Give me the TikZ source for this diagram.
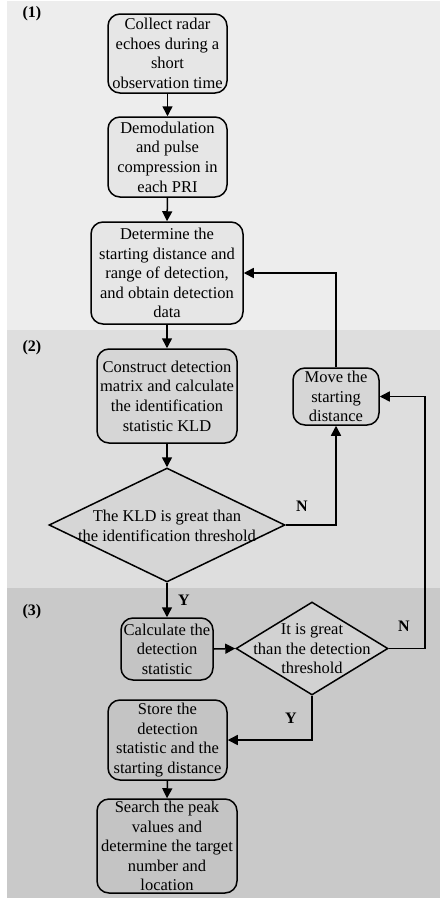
\documentclass[tikz,border=0pt]{standalone}
\usepackage{fontspec}
\setmainfont{Liberation Serif}
\usepackage{xcolor}
\usepackage{tikz}
\usetikzlibrary{positioning}
\usetikzlibrary{shapes.geometric}
\usetikzlibrary{arrows.meta}
\pgfdeclarelayer{bglayer}
\pgfdeclarelayer{nodelayer}
\pgfdeclarelayer{edgelayer}
\pgfsetlayers{bglayer,nodelayer,edgelayer,main}

\definecolor{bgone}{HTML}{EDEDED}
\definecolor{bgtwo}{HTML}{DEDEDE}
\definecolor{bgthree}{HTML}{C9C9C9}
\definecolor{boxone}{HTML}{E6E6E6}
\definecolor{boxtwo}{HTML}{D6D6D6}
\definecolor{boxthree}{HTML}{C4C4C4}
\definecolor{diathree}{HTML}{D2D2D2}

\tikzset{
  stepbox/.style={draw, line width=1.5pt, rounded corners=12pt, align=center,
    inner sep=0pt, font=\fontsize{16.5}{19.6}\selectfont},
  choice/.style={diamond, draw, line width=1.5pt, inner sep=0pt},
  choicetext/.style={align=center, font=\fontsize{16.5}{19.6}\selectfont},
  flow/.style={line width=1.5pt, -{Triangle[length=10pt,width=10pt]}},
  tag/.style={font=\fontsize{16}{19.6}\selectfont\bfseries}
}

\begin{document}
\begin{tikzpicture}[x=1pt, y=-1pt]
  \useasboundingbox (0,0) rectangle (440,902);
  \begin{pgfonlayer}{bglayer}
    \fill [bgone] (7,1) rectangle (440,330);
    \fill [bgtwo] (7,330) rectangle (440,588);
    \fill [bgthree] (7,588) rectangle (440,898);
    \node [tag] (p1) at (32,14) {(1)};
    \node [tag] (p2) at (32,348) {(2)};
    \node [tag] (p3) at (32,612) {(3)};
  \end{pgfonlayer}
  \begin{pgfonlayer}{nodelayer}
    \node [stepbox, fill=boxone, minimum width=119pt, minimum height=79pt] (0) at (167.5,53.5) {Collect radar\\echoes during a\\short\\observation time};
    \node [stepbox, fill=boxone, minimum width=119pt, minimum height=80pt] (1) at (167.5,157) {Demodulation\\and pulse\\compression in\\each PRI};
    \node [stepbox, fill=boxone, minimum width=152pt, minimum height=102pt] (2) at (167,273) {Determine the\\starting distance and\\range of detection,\\and obtain detection\\data};
    \node [stepbox, fill=boxtwo, minimum width=140pt, minimum height=94pt] (3) at (167,396) {Construct detection\\matrix and calculate\\the identification\\statistic KLD};
    \node [stepbox, fill=boxtwo, minimum width=86pt, minimum height=57pt] (4) at (336,396.5) {Move the\\starting\\distance};
    \node [choice, fill=boxtwo, minimum width=236pt, minimum height=114pt] (5) at (167,525) {};
    \node [choicetext] (5t) at (167,526) {The KLD is great than\\the identification threshold};
    \node [stepbox, fill=boxthree, minimum width=92pt, minimum height=62pt] (6) at (167,649) {Calculate the\\detection\\statistic};
    \node [choice, fill=diathree, minimum width=152pt, minimum height=93pt] (7) at (312,648.5) {};
    \node [choicetext] (7t) at (312,649) {It is great\\than the detection\\threshold};
    \node [stepbox, fill=boxthree, minimum width=119pt, minimum height=80pt] (8) at (167.5,740) {Store the\\detection\\statistic and the\\starting distance};
    \node [stepbox, fill=boxthree, minimum width=140pt, minimum height=94pt] (9) at (167,846) {Search the peak\\values and\\determine the target\\number and\\location};
    \coordinate (10) at (425,396.5);
    \node [tag] (n1) at (302,506) {N};
    \node [tag] (y1) at (184,600) {Y};
    \node [tag] (n2) at (404,626) {N};
    \node [tag] (y2) at (291,718) {Y};
  \end{pgfonlayer}
  \begin{pgfonlayer}{edgelayer}
    \draw [flow] (0.south) to (1.north);
    \draw [flow] (1.south) to (2.north);
    \draw [flow] (2.south) to (3.north);
    \draw [flow] (3.south) to (5.north);
    \draw [flow] (5.south) to (6.north);
    \draw [flow] (6.east) to (7.west);
    \draw [flow] (7.south) |- (8.east);
    \draw [flow] (8.south) to (9.north);
    \draw [flow] (7.east) -| (10) -- (4.east);
    \draw [flow] (5.east) -| (4.south);
    \draw [flow] (4.north) |- (2.east);
  \end{pgfonlayer}
\end{tikzpicture}
\end{document}
